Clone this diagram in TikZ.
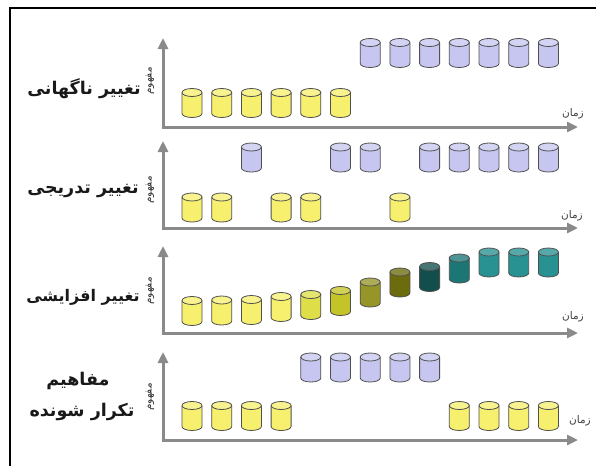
\documentclass[tikz,border=0pt]{standalone}
\usepackage{fontspec}
\usetikzlibrary{arrows.meta}
\newfontfamily\arabicfont[Script=Arabic,BoldFont={DejaVu Sans Bold}]{DejaVu Sans}
\TeXXeTstate=1
\definecolor{cylyellow}{RGB}{246,240,110}
\definecolor{cylblue}{RGB}{198,198,240}
\definecolor{axisgrey}{RGB}{138,138,138}
\definecolor{cyledge}{RGB}{80,80,80}
\definecolor{gA}{RGB}{222,222,72}
\definecolor{gB}{RGB}{196,196,40}
\definecolor{gC}{RGB}{150,150,40}
\definecolor{gD}{RGB}{108,108,12}
\definecolor{gE}{RGB}{18,78,78}
\definecolor{gF}{RGB}{28,118,118}
\definecolor{gG}{RGB}{40,145,145}
\tikzset{
  pics/cyl/.style={code={
    \fill[#1] (-10,10.5) -- (-10,-10.5) arc[start angle=180,end angle=360,x radius=10pt,y radius=4pt] -- (10,10.5) -- cycle;
    \draw[cyledge,line width=0.8pt] (-10,10.5) -- (-10,-10.5) arc[start angle=180,end angle=360,x radius=10pt,y radius=4pt] -- (10,10.5);
    \draw[cyledge,line width=0.8pt,fill=#1!78!white] (0,10.5) ellipse[x radius=10pt,y radius=4pt];
  }},
  axis/.style={draw=axisgrey,line width=3pt,{Triangle[length=11pt,width=10pt]}-{Triangle[length=11pt,width=10pt]}},
  title/.style={font=\arabicfont\bfseries\fontsize{17.5}{20}\selectfont,text=black!90,inner sep=0pt},
  titlesm/.style={title,font=\arabicfont\bfseries\fontsize{16}{20}\selectfont},
  ylab/.style={font=\arabicfont\fontsize{10.5}{12}\selectfont,text=black!80,rotate=90,inner sep=0pt},
  xlab/.style={font=\arabicfont\fontsize{10.5}{12}\selectfont,text=black!75,inner sep=0pt}
}
\begin{document}
\begin{tikzpicture}[x=1pt,y=1pt]
\useasboundingbox (0,-466) rectangle (596,0);
\fill[white] (0,-466) rectangle (596,0);
% frame
\coordinate (fbl) at (10,-466);
\coordinate (ftl) at (10,-8);
\coordinate (ftr) at (596,-8);
\draw[black,line width=1.6pt] (fbl) -- (ftl) -- (ftr);

% axes
\coordinate (yt1) at (163,-38);  \coordinate (xt1) at (578,-127);
\coordinate (yt2) at (163,-141); \coordinate (xt2) at (578,-228);
\coordinate (yt3) at (163,-246); \coordinate (xt3) at (578,-333);
\coordinate (yt4) at (163,-352); \coordinate (xt4) at (578,-440);
\draw[axis] (yt1) |- (xt1);
\draw[axis] (yt2) |- (xt2);
\draw[axis] (yt3) |- (xt3);
\draw[axis] (yt4) |- (xt4);

% axis labels
\node[ylab] (m1) at (150,-81) {\beginR مفهوم\endR};
\node[ylab] (m2) at (150,-190) {\beginR مفهوم\endR};
\node[ylab] (m3) at (150,-291) {\beginR مفهوم\endR};
\node[ylab] (m4) at (150,-397) {\beginR مفهوم\endR};
\node[xlab] (z1) at (573,-114) {\beginR زمان\endR};
\node[xlab] (z2) at (572,-216) {\beginR زمان\endR};
\node[xlab] (z3) at (573,-317) {\beginR زمان\endR};
\node[xlab] (z4) at (580,-421) {\beginR زمان\endR};

% titles
\node[title] (t1) at (84,-89) {\beginR تغییر ناگهانی\endR};
\node[title] (t2) at (83,-191) {\beginR تغییر تدریجی\endR};
\node[titlesm] (t3) at (83,-297) {\beginR تغییر افزایشی\endR};
\node[title] (t4a) at (78,-381) {\beginR مفاهیم\endR};
\node[title] (t4b) at (82,-412) {\beginR تکرار شونده\endR};

% panel 1
\foreach \k in {0,...,5} \pic at ({192+29.7*\k},-103) {cyl=cylyellow};
\foreach \k in {6,...,12} \pic at ({192+29.7*\k},-53) {cyl=cylblue};
% panel 2
\foreach \k in {0,1,3,4,7} \pic at ({192+29.7*\k},-207.5) {cyl=cylyellow};
\foreach \k in {2,5,6,8,9,10,11,12} \pic at ({192+29.7*\k},-157.5) {cyl=cylblue};
% panel 3
\foreach \k/\yc/\cc in {0/311/cylyellow,1/310.5/cylyellow,2/310/cylyellow,3/307/cylyellow,4/305/gA,5/301/gB,6/292.5/gC,7/282.5/gD,8/277/gE,9/268.5/gF,10/262.5/gG,11/262.5/gG,12/262.5/gG}
  \pic at ({192+29.7*\k},-\yc) {cyl=\cc};
% panel 4
\foreach \k in {0,1,2,3,9,10,11,12} \pic at ({192+29.7*\k},-416) {cyl=cylyellow};
\foreach \k in {4,...,8} \pic at ({192+29.7*\k},-367.5) {cyl=cylblue};
\end{tikzpicture}
\end{document}
